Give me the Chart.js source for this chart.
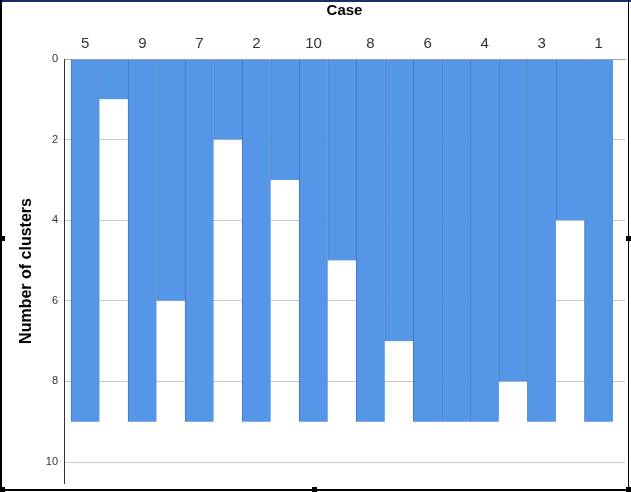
<!DOCTYPE html>
<html><head><meta charset="utf-8">
<script src="https://cdn.jsdelivr.net/npm/chart.js@4"></script>
<style>
html,body{margin:0;padding:0;background:#fff;overflow:hidden;}
#wrap{position:relative;width:631px;height:492px;}
canvas{position:absolute;left:0;top:0;}
.ln{position:absolute;background:#000;}
.h{position:absolute;width:5px;height:5px;background:#000;}
</style></head>
<body>
<div id="wrap">
<canvas id="c" width="631" height="492"></canvas>
<div class="ln" style="left:0;top:0;width:631px;height:2px;background:#1a2a6a"></div>
<div class="ln" style="left:0;top:0;width:2px;height:492px"></div>
<div class="ln" style="left:0;top:489px;width:631px;height:2px"></div>
<div class="ln" style="left:628px;top:0;width:1px;height:492px"></div>
<div class="h" style="left:0;top:236px"></div>
<div class="h" style="left:626px;top:236px"></div>
<div class="h" style="left:312px;top:487px"></div>
<div class="h" style="left:0;top:487px"></div>
<div class="h" style="left:626px;top:487px"></div>
</div>
<script>
const cases = ['5','9','7','2','10','8','6','4','3','1'];
const caseClusters = [9,9,9,9,9,9,9,9,9,9];
const gapClusters = [1,6,2,3,5,7,9,8,4];
const yTicks = [0,2,4,6,8,10];

const points = [];
const labels = [];
for (let i = 0; i < cases.length; i++) {
  points.push({x: 2*i, y: caseClusters[i]});
  labels.push(cases[i]);
  if (i < gapClusters.length) {
    points.push({x: 2*i+1, y: gapClusters[i]});
    labels.push('');
  }
}

new Chart(document.getElementById('c'), {
  type: 'bar',
  data: {
    datasets: [{
      data: points,
      backgroundColor: '#5596e6',
      borderColor: '#4176c2',
      borderWidth: {left:1, right:0, top:0, bottom:0},
      borderSkipped: false,
      barPercentage: 1,
      categoryPercentage: 1
    }]
  },
  options: {
    responsive: false,
    animation: false,
    layout: {padding: {left: 0, right: 6, top: 0, bottom: 9}},
    plugins: {legend: {display: false}, tooltip: {enabled: false}},
    scales: {
      x: {
        type: 'linear',
        position: 'top',
        min: -0.745,
        max: 18.92,
        offset: false,
        grid: {display: false, drawTicks: false},
        border: {display: true, color: '#aaaaaa', width: 1},
        afterBuildTicks: (s) => { s.ticks = labels.map((l,i)=>({value:i})).filter((t,i)=>i%2===0); },
        ticks: {
          autoSkip: false, maxRotation: 0,
          color: '#333', padding: 6,
          font: {family: 'Liberation Sans, Arial', size: 15},
          callback: (v) => labels[v]
        },
        title: {
          display: true, text: 'Case', color: '#000', padding: {top: 2, bottom: 6},
          font: {family: 'Liberation Sans, Arial', size: 15, weight: 'bold'}
        },
        afterFit: (s) => { s.height = 59; s.paddingLeft = 0; s.paddingRight = 0; }
      },
      y: {
        reverse: true,
        min: 0,
        max: 10.52,
        afterBuildTicks: (s) => { s.ticks = yTicks.map(v=>({value:v})); },
        grid: {color: '#c8c8c8', drawTicks: false},
        border: {display: true, color: '#333', width: 1},
        ticks: {
          color: '#333', padding: 6,
          font: {family: 'Liberation Sans, Arial', size: 11}
        },
        title: {
          display: true, text: 'Number of clusters', color: '#000', padding: {top: 17, bottom: 0},
          font: {family: 'Liberation Sans, Arial', size: 16, weight: 'bold'}
        },
        afterFit: (s) => { s.width = 64; s.paddingTop = 0; s.paddingBottom = 0; }
      }
    }
  }
});
</script>
</body></html>
